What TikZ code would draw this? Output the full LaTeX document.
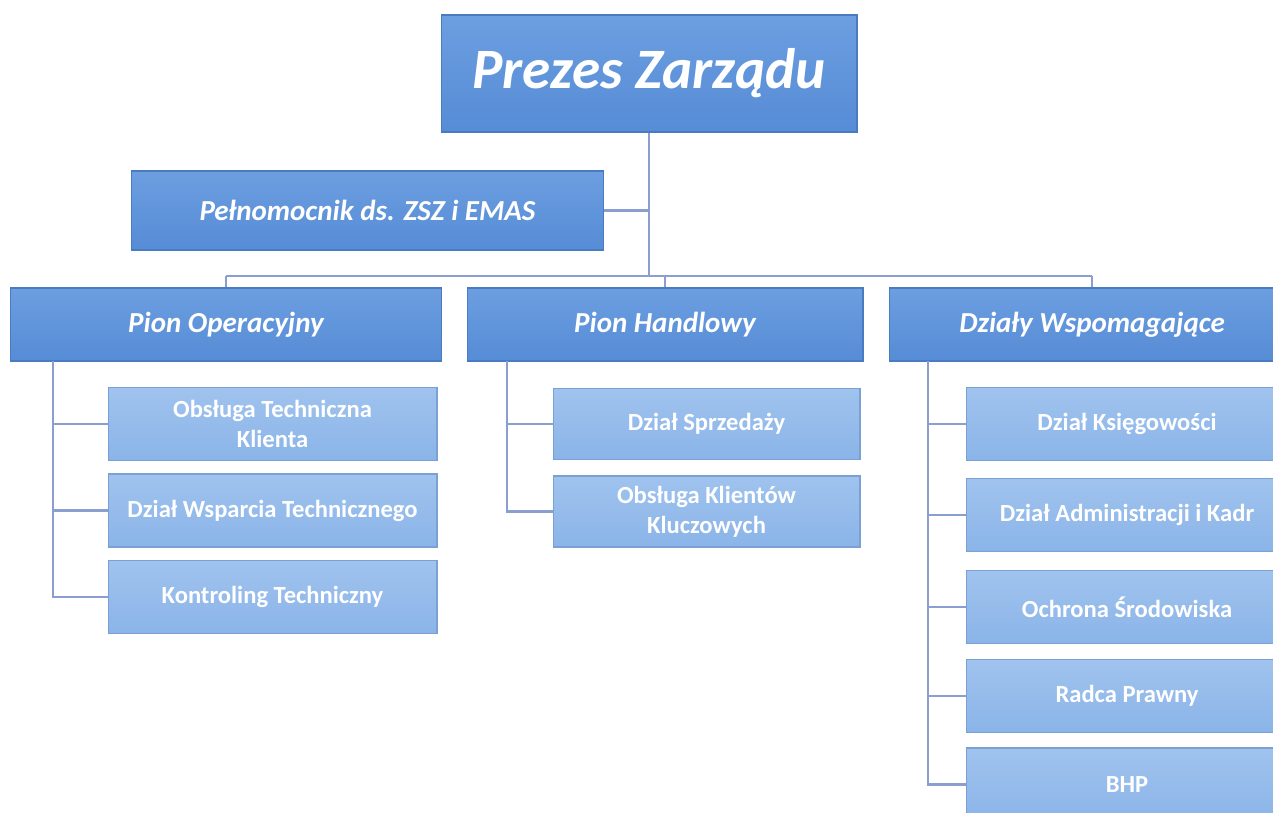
\documentclass[tikz,border=0pt]{standalone}
\usepackage{fontspec}
\setmainfont{Carlito}
\usetikzlibrary{calc}

\definecolor{darkbox}{RGB}{86,140,214}
\definecolor{darkboxtop}{RGB}{108,158,224}
\definecolor{darkedge}{RGB}{74,122,192}
\definecolor{lightbox}{RGB}{138,180,232}
\definecolor{lightboxtop}{RGB}{160,195,238}
\definecolor{lightedge}{RGB}{122,160,212}
\definecolor{linkline}{RGB}{138,158,208}

\begin{document}
\begin{tikzpicture}[x=0.02cm,y=-0.02cm,
                    headbox/.style={draw=darkedge,line width=0.6pt,top color=darkboxtop,bottom color=darkbox,
                                    text=white,font=\fontsize{16.5}{19}\selectfont\bfseries\itshape,
                                    inner sep=0pt,minimum height=1.46cm,align=center},
                    unitbox/.style={draw=lightedge,line width=0.6pt,top color=lightboxtop,bottom color=lightbox,
                                    text=white,font=\fontsize{14}{17}\selectfont\bfseries,
                                    inner sep=0pt,minimum height=1.46cm,align=center},
                    link/.style={draw=linkline,line width=1.3pt}]
                    \useasboundingbox (0,0) rectangle (1273,812);
                    \clip (0,0) rectangle (1273,812);

                    \node[headbox,minimum width=8.32cm,minimum height=2.34cm,
                          font=\fontsize{32.5}{38}\selectfont\bfseries\itshape] (prezes) at (649,73.5) {Prezes Zarządu};
                    \node[headbox,minimum width=9.46cm,minimum height=1.58cm] (pelnomocnik) at (367.5,210.5) {Pełnomocnik ds. ZSZ i EMAS};

                    \node[headbox,minimum width=8.64cm] (pionop) at (226,324.5) {Pion Operacyjny};
                    \node[headbox,minimum width=7.92cm] (pionhan) at (665,324.5) {Pion Handlowy};
                    \node[headbox,minimum width=8.12cm] (dzialy) at (1092,324.5) {Działy Wspomagające};

                    \node[unitbox,minimum width=6.58cm] (op1) at (272.5,424) {Obsługa Techniczna\\Klienta};
                    \node[unitbox,minimum width=6.58cm] (op2) at (272.5,510.5) {Dział Wsparcia Technicznego};
                    \node[unitbox,minimum width=6.58cm] (op3) at (272.5,597) {Kontroling Techniczny};

                    \node[unitbox,minimum width=6.14cm,minimum height=1.42cm] (han1) at (706.5,424) {Dział Sprzedaży};
                    \node[unitbox,minimum width=6.14cm,minimum height=1.42cm] (han2) at (706.5,511.5) {Obsługa Klientów\\Kluczowych};

                    \node[unitbox,minimum width=6.44cm] (dz1) at (1127,424) {Dział Księgowości};
                    \node[unitbox,minimum width=6.44cm] (dz2) at (1127,515) {Dział Administracji i Kadr};
                    \node[unitbox,minimum width=6.44cm] (dz3) at (1127,607) {Ochrona Środowiska};
                    \node[unitbox,minimum width=6.44cm] (dz4) at (1127,696) {Radca Prawny};
                    \node[unitbox,minimum width=6.44cm] (dz5) at (1127,784.5) {BHP};

                    \coordinate (bar) at (649,276);
                    \draw[link] (prezes.south) -- (prezes.south |- bar);
                    \draw[link] (pelnomocnik.east) -- (pelnomocnik.east -| prezes.south);
                    \draw[link] (pionop.north |- bar) -- (dzialy.north |- bar);
                    \foreach \top in {pionop,pionhan,dzialy}
                        \draw[link] (\top.north |- bar) -- (\top.north);

                    \coordinate (opv) at (53,361);
                    \coordinate (hanv) at (507,361);
                    \coordinate (dzv) at (928,361);
                    \draw[link] (opv) |- (op3.west);
                    \foreach \sub in {op1,op2}
                        \draw[link] (opv |- \sub.west) -- (\sub.west);
                    \draw[link] (hanv) |- (han2.west);
                    \draw[link] (hanv |- han1.west) -- (han1.west);
                    \draw[link] (dzv) |- (dz5.west);
                    \foreach \sub in {dz1,dz2,dz3,dz4}
                        \draw[link] (dzv |- \sub.west) -- (\sub.west);
                \end{tikzpicture}
\end{document}
